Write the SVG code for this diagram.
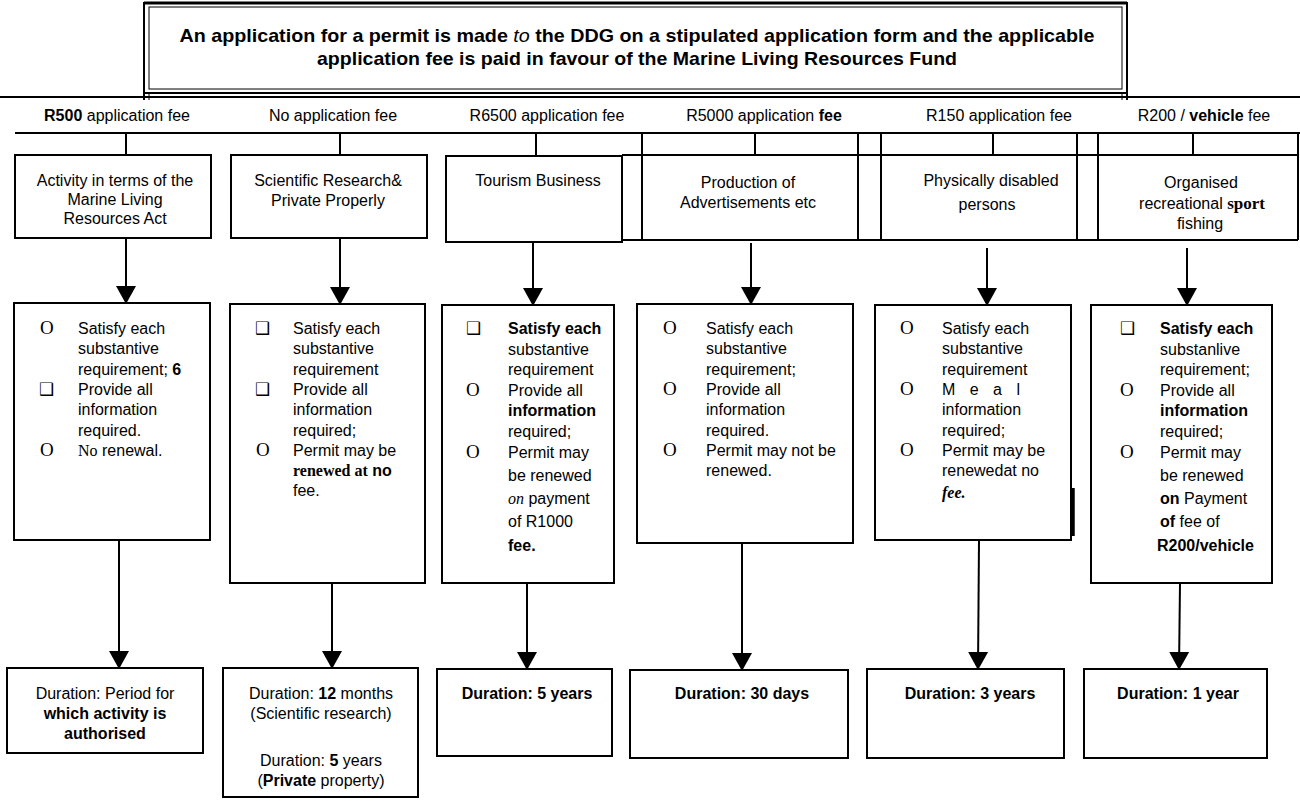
<svg xmlns="http://www.w3.org/2000/svg" width="1300" height="802" viewBox="0 0 1300 802">
<style>
text{font-family:"Liberation Sans",Arial,sans-serif;font-size:16px;fill:#000}
.t{font-weight:bold;font-size:19px}
.c{text-anchor:middle}
.b{font-weight:bold}
.s{font-family:"Liberation Serif","Times New Roman",serif}
.bx{fill:#fff;stroke:#000;stroke-width:2}
.ln{stroke:#000;stroke-width:2;fill:none}
.o{font-family:"Liberation Serif","Times New Roman",serif;font-size:19px}
.q{font-family:"DejaVu Sans",sans-serif;font-size:17px}
.ar{stroke:#000;stroke-width:2;fill:none;marker-end:url(#ah)}
</style>
<defs>
<marker id="ah" markerUnits="userSpaceOnUse" markerWidth="20" markerHeight="22" refX="18" refY="10" orient="auto" viewBox="0 0 20 20">
<path d="M0,0 L18,10 L0,20 z" fill="#000"/>
</marker>
</defs>
<rect width="1300" height="802" fill="#fff"/>

<g id="title">
<rect x="144" y="3" width="983" height="90" fill="none" stroke="#000" stroke-width="2"/>
<rect x="149" y="7" width="973" height="82" fill="none" stroke="#000" stroke-width="1"/>
<line x1="144" y1="3" x2="1127" y2="3" stroke="#000" stroke-width="3"/>
<line x1="144" y1="93" x2="144" y2="100" stroke="#000" stroke-width="2"/>
<line x1="149" y1="93" x2="149" y2="100" stroke="#000" stroke-width="1"/>
<line x1="1122" y1="93" x2="1122" y2="100" stroke="#000" stroke-width="1"/>
<line x1="1127" y1="93" x2="1127" y2="100" stroke="#000" stroke-width="2"/>
<text class="t c" x="637" y="42" textLength="915" lengthAdjust="spacingAndGlyphs">An application for a permit is made <tspan font-style="italic" font-weight="normal">to</tspan> the DDG on a stipulated application form and the applicable</text>
<text class="t c" x="637" y="65" textLength="640" lengthAdjust="spacingAndGlyphs">application fee is paid in favour of the Marine Living Resources Fund</text>
</g>

<g id="headers">
<line x1="0" y1="97" x2="1300" y2="97" stroke="#000" stroke-width="2"/>
<text class="c" x="117" y="121"><tspan class="b">R500</tspan> application fee</text>
<text class="c" x="333" y="121">No application fee</text>
<text class="c" x="547" y="121">R6500 application fee</text>
<text class="c" x="764" y="121">R5000 application <tspan class="b">fee</tspan></text>
<text class="c" x="999" y="121">R150 application fee</text>
<text class="c" x="1204" y="121">R200 / <tspan class="b">vehicle</tspan> fee</text>
<line x1="15" y1="133" x2="1300" y2="133" class="ln"/>
</g>

<g id="connectors">
<line x1="126" y1="133" x2="126" y2="155" class="ln" stroke-width="1.5"/>
<line x1="340" y1="133" x2="340" y2="155" class="ln" stroke-width="1.5"/>
<line x1="536" y1="133" x2="536" y2="156" class="ln" stroke-width="3"/>
<line x1="755" y1="133" x2="755" y2="155" class="ln" stroke-width="2.5"/>
<line x1="993" y1="133" x2="993" y2="155" class="ln" stroke-width="2.5"/>
<line x1="1193" y1="133" x2="1193" y2="155" class="ln" stroke-width="2.5"/>
<line x1="126" y1="238" x2="126" y2="304" class="ar" stroke-width="3.5"/>
<line x1="340" y1="238" x2="340" y2="305" class="ar" stroke-width="1.5"/>
<line x1="533" y1="242" x2="533" y2="306" class="ar" stroke-width="1.5"/>
<line x1="751" y1="243" x2="751" y2="305" class="ar" stroke-width="1.5"/>
<line x1="987" y1="248" x2="987" y2="306" class="ar" stroke-width="1.5"/>
<line x1="1187" y1="248" x2="1187" y2="306" class="ar" stroke-width="1.5"/>
<line x1="119" y1="540" x2="119" y2="669" class="ar"/>
<line x1="332" y1="583" x2="332" y2="669" class="ar"/>
<line x1="527" y1="583" x2="527" y2="670" class="ar"/>
<line x1="742" y1="543" x2="742" y2="671" class="ar"/>
<line x1="979" y1="540" x2="978" y2="670" class="ar"/>
<line x1="1180" y1="583" x2="1179" y2="670" class="ar"/>
</g>

<g id="table">
<line x1="622" y1="155" x2="1298" y2="155" class="ln"/>
<line x1="622" y1="240" x2="1298" y2="240" class="ln"/>
<line x1="642" y1="133" x2="642" y2="240" class="ln"/>
<line x1="858" y1="133" x2="858" y2="240" class="ln"/>
<line x1="881" y1="133" x2="881" y2="240" class="ln"/>
<line x1="1077" y1="133" x2="1077" y2="240" class="ln"/>
<line x1="1098" y1="133" x2="1098" y2="240" class="ln"/>
<line x1="1298" y1="133" x2="1298" y2="240" class="ln"/>
</g>

<g id="n-activity">
<rect class="bx" x="15" y="155" width="196" height="83"/>
<text class="c" x="115" y="186">Activity in terms of the</text>
<text class="c" x="115" y="205">Marine Living</text>
<text class="c" x="115" y="224">Resources Act</text>
</g>
<g id="n-scientific">
<rect class="bx" x="231" y="155" width="196" height="83"/>
<text class="c" x="328" y="186">Scientific Research&amp;</text>
<text class="c" x="328" y="206">Private Properly</text>
</g>
<g id="n-tourism">
<rect class="bx" x="446" y="156" width="176" height="86" stroke-width="2.5"/>
<text class="c" x="538" y="186">Tourism Business</text>
</g>
<g id="n-advert">
<text class="c" x="748" y="188">Production of</text>
<text class="c" x="748" y="208">Advertisements etc</text>
</g>
<g id="n-disabled">
<text class="c" x="991" y="186">Physically disabled</text>
<text class="c" x="987" y="210">persons</text>
</g>
<g id="n-sport">
<text class="c" x="1201" y="188">Organised</text>
<text class="c" x="1202" y="209">recreational <tspan class="s b" font-size="17">sport</tspan></text>
<text class="c" x="1200" y="229">fishing</text>
</g>

<g id="r-activity">
<rect class="bx" x="14" y="303" width="196" height="237"/>
<text class="o" x="40" y="334">O</text>
<text x="78" y="334">Satisfy each</text>
<text x="78" y="354">substantive</text>
<text x="78" y="375">requirement; <tspan class="b">6</tspan></text>
<text class="q" x="39" y="395">❑</text>
<text x="78" y="395">Provide all</text>
<text x="78" y="415">information</text>
<text x="78" y="436">required.</text>
<text class="o" x="40" y="456">O</text>
<text x="78" y="456"><tspan class="s">No</tspan> renewal.</text>
</g>
<g id="r-scientific">
<rect class="bx" x="230" y="304" width="195" height="279"/>
<text class="q" x="255" y="334">❑</text>
<text x="293" y="334">Satisfy each</text>
<text x="293" y="354">substantive</text>
<text x="293" y="375">requirement</text>
<text class="q" x="255" y="395">❑</text>
<text x="293" y="395">Provide all</text>
<text x="293" y="415">information</text>
<text x="293" y="436">required;</text>
<text class="o" x="256" y="456">O</text>
<text x="293" y="456">Permit may be</text>
<text x="293" y="476"><tspan class="s b">renewed at</tspan> <tspan class="b">no</tspan></text>
<text x="293" y="496">fee.</text>
</g>
<g id="r-tourism">
<rect class="bx" x="442" y="305" width="172" height="278"/>
<text class="q" x="466" y="334">❑</text>
<text class="b" x="508" y="334">Satisfy each</text>
<text x="508" y="355">substantive</text>
<text x="508" y="375">requirement</text>
<text class="o" x="466" y="396">O</text>
<text x="508" y="396">Provide all</text>
<text class="b" x="508" y="416">information</text>
<text x="508" y="437">required;</text>
<text class="o" x="466" y="458">O</text>
<text x="508" y="458">Permit may</text>
<text x="508" y="481">be renewed</text>
<text x="508" y="504"><tspan class="s" font-style="italic">on</tspan> payment</text>
<text x="508" y="527">of R1000</text>
<text class="b" x="508" y="551">fee.</text>
</g>
<g id="r-advert">
<rect class="bx" x="637" y="304" width="216" height="239"/>
<text class="o" x="663" y="334">O</text>
<text x="706" y="334">Satisfy each</text>
<text x="706" y="354">substantive</text>
<text x="706" y="375">requirement;</text>
<text class="o" x="663" y="395">O</text>
<text x="706" y="395">Provide all</text>
<text x="706" y="415">information</text>
<text x="706" y="436">required.</text>
<text class="o" x="663" y="456">O</text>
<text x="706" y="456">Permit may not be</text>
<text x="706" y="476">renewed.</text>
</g>
<g id="r-disabled">
<rect class="bx" x="875" y="305" width="196" height="235"/>
<line x1="1073" y1="488" x2="1073" y2="536" stroke="#000" stroke-width="3.5"/>
<text class="o" x="900" y="334">O</text>
<text x="942" y="334">Satisfy each</text>
<text x="942" y="354">substantive</text>
<text x="942" y="375">requirement</text>
<text class="o" x="900" y="395">O</text>
<text x="942" y="395" word-spacing="10">M e a l</text>
<text x="942" y="415">information</text>
<text x="942" y="436">required;</text>
<text class="o" x="900" y="456">O</text>
<text x="942" y="456">Permit may be</text>
<text x="942" y="476">renewedat no</text>
<text class="s b" x="942" y="498" font-size="21" font-style="italic">fee.</text>
</g>
<g id="r-sport">
<rect class="bx" x="1091" y="305" width="181" height="278"/>
<text class="q" x="1120" y="334">❑</text>
<text class="b" x="1160" y="334">Satisfy each</text>
<text x="1160" y="355">substanlive</text>
<text x="1160" y="375">requirement;</text>
<text class="o" x="1120" y="396">O</text>
<text x="1160" y="396">Provide all</text>
<text class="b" x="1160" y="416">information</text>
<text x="1160" y="437">required;</text>
<text class="o" x="1120" y="458">O</text>
<text x="1160" y="458">Permit may</text>
<text x="1160" y="481">be renewed</text>
<text x="1160" y="504"><tspan class="b">on</tspan> Payment</text>
<text x="1160" y="527"><tspan class="b">of</tspan> fee of</text>
<text class="b" x="1157" y="551">R200/vehicle</text>
</g>

<g id="d-activity">
<rect class="bx" x="7" y="668" width="196" height="85"/>
<text class="c" x="105" y="699">Duration: Period for</text>
<text class="c b" x="105" y="719">which activity is</text>
<text class="c b" x="105" y="739">authorised</text>
</g>
<g id="d-scientific">
<rect class="bx" x="223" y="668" width="195" height="129"/>
<text class="c" x="321" y="699">Duration: <tspan class="b">12</tspan> months</text>
<text class="c" x="321" y="719">(Scientific research)</text>
<text class="c" x="321" y="766">Duration: <tspan class="b">5</tspan> years</text>
<text class="c" x="321" y="786">(<tspan class="b">Private</tspan> property)</text>
</g>
<g id="d-tourism">
<rect class="bx" x="437" y="669" width="175" height="87"/>
<text class="c b" x="527" y="699">Duration: 5 years</text>
</g>
<g id="d-advert">
<rect class="bx" x="630" y="670" width="218" height="88"/>
<text class="c b" x="742" y="699">Duration: 30 days</text>
</g>
<g id="d-disabled">
<rect class="bx" x="867" y="669" width="197" height="89"/>
<text class="c b" x="970" y="699">Duration: 3 years</text>
</g>
<g id="d-sport">
<rect class="bx" x="1084" y="669" width="183" height="89"/>
<text class="c b" x="1178" y="699">Duration: 1 year</text>
</g>
</svg>
